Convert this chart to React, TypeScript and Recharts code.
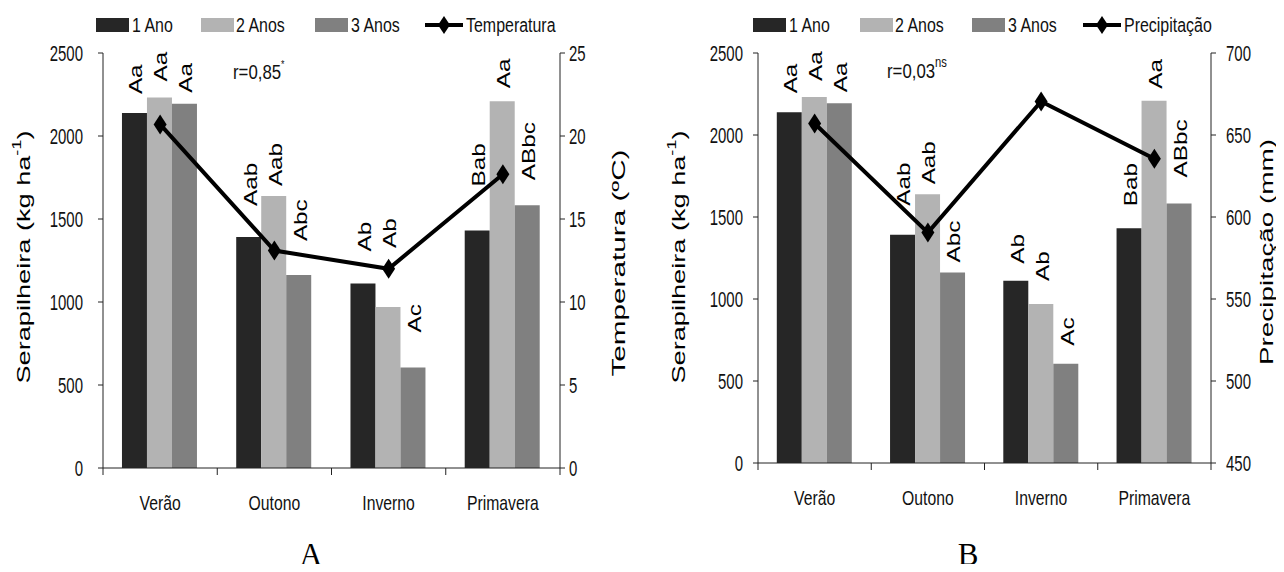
import React from "react";
import { Bar, ComposedChart, LabelList, Line, XAxis, YAxis } from "recharts";

const seasons = ["Verão", "Outono", "Inverno", "Primavera"];
const ano1 = [2138, 1392, 1112, 1431];
const ano2 = [2232, 1638, 970, 2209];
const ano3 = [2194, 1162, 605, 1583];
const letras1 = ["Aa", "Aab", "Ab", "Bab"];
const letras2 = ["Aa", "Aab", "Ab", "Aa"];
const letras3 = ["Aa", "Abc", "Ac", "ABbc"];
const temperatura = [20.7, 13.1, 12.0, 17.7];
const precipitacao = [657, 590.5, 670.5, 635.5];
const serapTicks = [0, 500, 1000, 1500, 2000, 2500];
const tempTicks = [0, 5, 10, 15, 20, 25];
const precTicks = [450, 500, 550, 600, 650, 700];

const ARIAL = '"Liberation Sans", Arial, sans-serif';
const SERIF = '"Liberation Serif", "Times New Roman", serif';
const C1 = "#262626";
const C2 = "#b3b3b3";
const C3 = "#808080";

// pixel gap between bar top and its letter label (labels were hand-placed)
const gapsA = [[19, 31, 32, 44], [16, 10, 59, 13], [11, 34, 35, 25]];
const gapsB = [[19, 29, 17, 22], [16, 10, 23, 12], [11, 10, 18, 26]];

// condensed look: Liberation Sans squeezed horizontally
function Narrow({ x, y, anchor = "start", size = 21, sx = 0.76, children }: any) {
  return (
    <text
      transform={`translate(${x},${y}) scale(${sx},1)`}
      textAnchor={anchor}
      dominantBaseline="central"
      fontFamily={ARIAL}
      fontSize={size}
      fill="#111"
    >
      {children}
    </text>
  );
}

function Diamond({ cx, cy }: any) {
  if (cx == null || cy == null) return null;
  return (
    <polygon
      points={`${cx},${cy - 10} ${cx + 6.5},${cy} ${cx},${cy + 10} ${cx - 6.5},${cy}`}
      fill="#000"
    />
  );
}

const barLabel = (gaps: number[]) => (p: any) => {
  const cx = p.x + p.width / 2 + 2;
  const y = p.y - gaps[p.index];
  return (
    <text
      transform={`translate(${cx},${y}) rotate(-90) scale(1.35,1)`}
      fontFamily={ARIAL}
      fontSize={18}
      dominantBaseline="central"
      textAnchor="start"
      fill="#000"
    >
      {p.value}
    </text>
  );
};

const makeXTick = (band: number) => (p: any) => {
  const { x, y, payload, index } = p;
  return (
    <g>
      <Narrow x={x} y={y + 35} anchor="middle" sx={0.75}>
        {payload.value}
      </Narrow>
      {index === 0 && <line x1={x - band / 2} x2={x - band / 2} y1={y} y2={y + 7} stroke="#222" />}
      <line x1={x + band / 2} x2={x + band / 2} y1={y} y2={y + 7} stroke="#222" />
    </g>
  );
};

const yTick = (p: any) => (
  <Narrow x={p.x} y={p.y} anchor={p.textAnchor} size={22} sx={0.68}>
    {p.payload.value}
  </Narrow>
);

type PanelProps = {
  left: number;
  leftW: number;
  rightW: number;
  bottom: number;
  clima: number[];
  climaTicks: number[];
  gaps: number[][];
  leftMargin: number;
  rightMargin: number;
  children: React.ReactNode;
};

function Panel({ left, leftW, rightW, bottom, clima, climaTicks, gaps, leftMargin, rightMargin, children }: PanelProps) {
  const W = 642;
  const H = 572;
  const data = seasons.map((s, i) => ({
    season: s,
    a1: ano1[i],
    a2: ano2[i],
    a3: ano3[i],
    l1: letras1[i],
    l2: letras2[i],
    l3: letras3[i],
    clima: clima[i],
  }));
  const band = (W - leftW - rightW) / seasons.length;
  return (
    <div style={{ position: "absolute", left, top: 0, width: W, height: H }}>
      <ComposedChart
        width={W}
        height={H}
        data={data}
        margin={{ top: 53, right: 0, bottom, left: 0 }}
        barCategoryGap="16.6%"
        barGap={0}
      >
        <XAxis
          dataKey="season"
          xAxisId="x"
          height={60}
          tickSize={0}
          tickMargin={0}
          axisLine={{ stroke: "#222" }}
          tick={makeXTick(band)}
          interval={0}
        />
        <YAxis
          yAxisId="l"
          width={leftW}
          domain={[0, 2500]}
          ticks={serapTicks}
          tickSize={5}
          tickMargin={leftMargin}
          tick={yTick}
          axisLine={{ stroke: "#222" }}
          tickLine={{ stroke: "#222" }}
        />
        <YAxis
          yAxisId="r"
          orientation="right"
          width={rightW}
          domain={[climaTicks[0], climaTicks[climaTicks.length - 1]]}
          ticks={climaTicks}
          tickSize={5}
          tickMargin={rightMargin}
          tick={yTick}
          axisLine={{ stroke: "#222" }}
          tickLine={{ stroke: "#222" }}
        />
        <Bar dataKey="a1" xAxisId="x" yAxisId="l" fill={C1} isAnimationActive={false}>
          <LabelList dataKey="l1" content={barLabel(gaps[0])} />
        </Bar>
        <Bar dataKey="a2" xAxisId="x" yAxisId="l" fill={C2} isAnimationActive={false}>
          <LabelList dataKey="l2" content={barLabel(gaps[1])} />
        </Bar>
        <Bar dataKey="a3" xAxisId="x" yAxisId="l" fill={C3} isAnimationActive={false}>
          <LabelList dataKey="l3" content={barLabel(gaps[2])} />
        </Bar>
        <Line
          dataKey="clima"
          xAxisId="x"
          yAxisId="r"
          stroke="#000"
          strokeWidth={4}
          dot={<Diamond />}
          activeDot={false}
          isAnimationActive={false}
        />
      </ComposedChart>
      <svg width={W} height={H} style={{ position: "absolute", left: 0, top: 0, pointerEvents: "none" }}>
        {children}
      </svg>
    </div>
  );
}

function LegendRow({ xs, last }: { xs: number[]; last: string }) {
  const [s1, s2, s3, ln] = xs;
  return (
    <g>
      <rect x={s1} y={18} width={33} height={14} fill={C1} />
      <Narrow x={s1 + 36} y={25}>1 Ano</Narrow>
      <rect x={s2} y={18} width={33} height={14} fill={C2} />
      <Narrow x={s2 + 35} y={25}>2 Anos</Narrow>
      <rect x={s3} y={18} width={33} height={14} fill={C3} />
      <Narrow x={s3 + 36} y={25}>3 Anos</Narrow>
      <line x1={ln} x2={ln + 38} y1={25} y2={25} stroke="#000" strokeWidth={4} />
      <polygon points={`${ln + 19},${16} ${ln + 25},${25} ${ln + 19},${34} ${ln + 13},${25}`} fill="#000" />
      <Narrow x={ln + 41} y={25}>{last}</Narrow>
    </g>
  );
}

function VTitle({ x, y, len, children }: any) {
  return (
    <text
      transform={`translate(${x},${y}) rotate(-90)`}
      textAnchor="middle"
      dominantBaseline="central"
      fontFamily={ARIAL}
      fontSize={18}
      textLength={len}
      lengthAdjust="spacingAndGlyphs"
      fill="#000"
    >
      {children}
    </text>
  );
}

function SerapTitle({ x }: { x: number }) {
  return (
    <VTitle x={x} y={257} len={253}>
      Serapilheira (kg ha<tspan dy={-7} fontSize={12}>-1</tspan>
      <tspan dy={7}>)</tspan>
    </VTitle>
  );
}

export default function App() {
  return (
    <div style={{ position: "relative", width: 1284, height: 572, margin: -8, background: "#fff", overflow: "hidden" }}>
      <Panel left={0} leftW={103} rightW={82} bottom={44} clima={temperatura} climaTicks={tempTicks} gaps={gapsA} leftMargin={15} rightMargin={4}>
        <LegendRow xs={[96, 201, 315, 425]} last="Temperatura" />
        <SerapTitle x={24} />
        <VTitle x={619} y={263} len={227}>Temperatura (ºC)</VTitle>
        <Narrow x={233} y={72} sx={0.8}>
          r=0,85<tspan dy={-8} fontSize={11}>*</tspan>
        </Narrow>
        <text x={311} y={565} textAnchor="middle" fontFamily={SERIF} fontSize={31} fill="#000">A</text>
      </Panel>
      <Panel left={642} leftW={116} rightW={73} bottom={49} clima={precipitacao} climaTicks={precTicks} gaps={gapsB} leftMargin={10} rightMargin={10}>
        <LegendRow xs={[111, 218, 330, 441]} last="Precipitação" />
        <SerapTitle x={37} />
        <VTitle x={625} y={252} len={226}>Precipitação (mm)</VTitle>
        <Narrow x={245} y={71} sx={0.8}>
          r=0,03<tspan dy={-8} fontSize={14}>ns</tspan>
        </Narrow>
        <text x={326} y={565} textAnchor="middle" fontFamily={SERIF} fontSize={31} fill="#000">B</text>
      </Panel>
    </div>
  );
}
